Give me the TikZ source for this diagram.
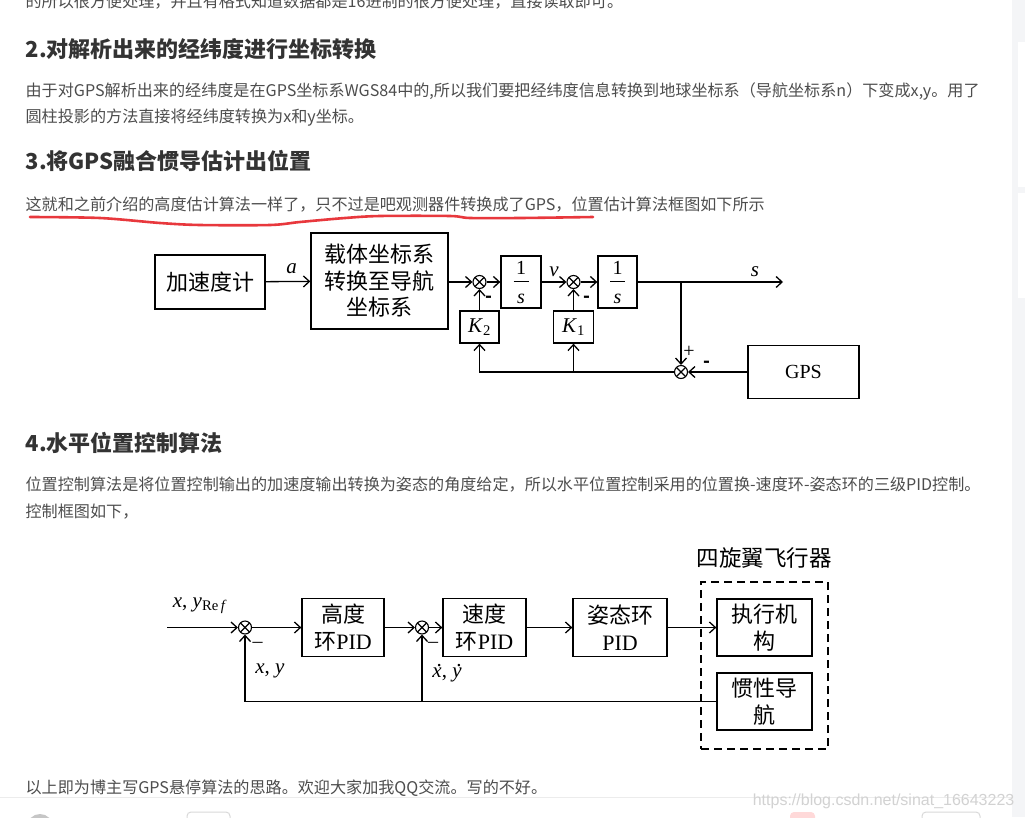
\documentclass[tikz,border=0pt]{standalone}
\usepackage{fontspec}
\setmainfont{Liberation Serif}
\newfontfamily\cjk{Noto Sans CJK SC}
\newfontfamily\webfont{Noto Sans CJK SC}
\newfontfamily\markfont{Liberation Sans}
\usetikzlibrary{arrows.meta, positioning, calc}
\definecolor{bodytext}{HTML}{4D4D4D}
\definecolor{headtext}{HTML}{333333}
\definecolor{sidebar}{HTML}{F4F5F7}
\definecolor{penred}{HTML}{E8383D}
\newcommand\vdot[1]{\leavevmode\makebox[0pt][l]{\hspace{0.2em}\raisebox{0.5em}{\textup{.}}}\textit{#1}}
\newcommand\invs{1\\[-3pt]\rule{15pt}{1.2pt}\\[10pt]\textit{s}}

\begin{document}
\begin{tikzpicture}[
    x=1pt, y=-1pt,
    line width=1.3pt,
    >={Straight Barb[length=6pt,width=11pt]},
    block/.style={draw, rectangle, inner sep=0pt, align=center, font=\cjk\fontsize{22}{26.5}\selectfont},
    frac/.style={block, font=\fontsize{20}{11}\selectfont},
    sumnode/.style={draw, circle, minimum size=13pt, inner sep=0pt, line width=1.1pt,
        path picture={\draw[line width=1.1pt] (path picture bounding box.north west) -- (path picture bounding box.south east)
            (path picture bounding box.north east) -- (path picture bounding box.south west);}},
    sign/.style={inner sep=0pt, font=\fontsize{20}{20}\selectfont},
    var/.style={inner sep=0pt, font=\fontsize{21}{22}\selectfont},
    para/.style={anchor=base west, inner sep=0pt, text=bodytext, font=\webfont\fontsize{16.1}{16}\selectfont},
    heading/.style={anchor=base west, inner sep=0pt, text=headtext, font=\webfont\bfseries\fontsize{22}{22}\selectfont}
]
    \useasboundingbox (0,0) rectangle (1025,817);
    \clip (0,0) rectangle (1025,817);
    % page background
    \fill[white] (0,0) rectangle (1025,817);
    \fill[sidebar] (1012,0) rectangle (1025,817);
    \fill[white] (1018,42) rectangle (1025,187);
    \fill[white] (1018,193) rectangle (1025,298);
    \draw[gray!15, line width=1pt] (0,797) -- (1012,797);
    \fill[gray!45] (40,827) circle (13);
    \draw[gray!30, line width=1pt, rounded corners=4pt] (187,812) rectangle (230,830);
    \fill[pink!60, rounded corners=4pt] (790,812) rectangle (815,830);
    \draw[gray!30, line width=1pt, rounded corners=4pt] (922,812) rectangle (980,830);

    % article text
    \node[para] (line0) at (25,7.5) {的所以很方便处理，并且有格式知道数据都是16进制的很方便处理，直接读取即可。};
    \node[heading] (head2) at (25,57) {2.对解析出来的经纬度进行坐标转换};
    \node[para] (p2a) at (25,96) {由于对GPS解析出来的经纬度是在GPS坐标系WGS84中的,所以我们要把经纬度信息转换到地球坐标系（导航坐标系n）下变成x,y。用了};
    \node[para] (p2b) at (25,122) {圆柱投影的方法直接将经纬度转换为x和y坐标。};
    \node[heading] (head3) at (25,169) {3.将GPS融合惯导估计出位置};
    \node[para] (p3) at (25,210) {这就和之前介绍的高度估计算法一样了，只不过是吧观测器件转换成了GPS，位置估计算法框图如下所示};
    \draw[penred, line width=2.6pt, line cap=round] plot[smooth] coordinates {(30,217) (100,218) (160,223) (200,225) (270,225) (300,222) (345,218) (380,216) (450,216) (470,218) (520,218) (593,217)};
    \node[heading] (head4) at (25,451) {4.水平位置控制算法};
    \node[para] (p4a) at (25,490) {位置控制算法是将位置控制输出的加速度输出转换为姿态的角度给定，所以水平位置控制采用的位置换-速度环-姿态环的三级PID控制。};
    \node[para] (p4b) at (25,517) {控制框图如下，};
    \node[para] (p5) at (25,793) {以上即为博主写GPS悬停算法的思路。欢迎大家加我QQ交流。写的不好。};
    \node[anchor=base east, inner sep=0pt, text=gray!35, font=\markfont\fontsize{16}{16}\selectfont] (wmark) at (1015,805) {https://blog.csdn.net/sinat\_16643223};

    % position estimation
    \node[block, minimum width=110pt, minimum height=54pt] (accel) at (210,282) {加速度计};
    \node[block, minimum width=137pt, minimum height=96pt] (convert) at (379.5,281) {载体坐标系\\转换至导航\\坐标系};
    \node[sumnode] (s1) at (479.5,282) {};
    \node[frac, minimum width=40pt, minimum height=52pt] (int1) at (521,282) {\invs};
    \node[block, minimum width=39pt, minimum height=32pt, font=\fontsize{21}{21}\selectfont] (k2) at (479.5,327) {\textit{K}\textsubscript{2}};
    \node[sumnode] (s2) at (573.5,282) {};
    \node[frac, minimum width=39pt, minimum height=52pt] (int2) at (617.5,282) {\invs};
    \node[block, minimum width=40pt, minimum height=32pt, font=\fontsize{21}{21}\selectfont] (k1) at (573.5,327) {\textit{K}\textsubscript{1}};
    \node[sumnode] (s3) at (681,372) {};
    \node[block, minimum width=111pt, minimum height=53pt, font=\fontsize{20}{20}\selectfont] (gps) at (803.5,372) {GPS};
    \coordinate (sout) at (783,282);
    \coordinate (tap) at (681,282);
    \draw[->] (accel) -- node[var, above=7pt, pos=0.58] (lbla) {\textit{a}} (convert);
    \draw[->] (convert.east |- s1) -- (s1);
    \draw[->] (s1) -- (int1);
    \draw[->] (k2) -- (s1);
    \draw[->] (int1) -- node[var, above=5pt] (lblv) {\textit{v}} (s2);
    \draw[->] (s2) -- (int2);
    \draw[->] (k1) -- (s2);
    \draw[->] (int2) -- (sout);
    \node[var] (lbls) at (755,272) {\textit{s}};
    \draw[->] (tap) -- (s3);
    \draw[->] (gps) -- (s3);
    \draw[->] (s3) -| (k2);
    \draw[->] (k1 |- s3) -- (k1);
    \node[sign, font=\cjk\bfseries\fontsize{18}{18}\selectfont] (m1) at (488.5,299) {-};
    \node[sign, font=\cjk\bfseries\fontsize{18}{18}\selectfont] (m2) at (587,299) {-};
    \node[sign] (p3plus) at (689,352) {+};
    \node[sign, font=\cjk\bfseries\fontsize{18}{18}\selectfont] (m3) at (707,364) {-};

    % horizontal position control
    \node[block, minimum width=82pt, minimum height=58pt] (posloop) at (343,627.5) {高度\\环{\rmfamily PID}};
    \node[sumnode] (sa) at (245,627.5) {};
    \node[sumnode] (sb) at (422,627.5) {};
    \node[block, minimum width=83pt, minimum height=58pt] (velloop) at (484.5,627.5) {速度\\环{\rmfamily PID}};
    \node[block, minimum width=94pt, minimum height=58pt] (attloop) at (620,627.5) {姿态环\\{\rmfamily PID}};
    \node[block, minimum width=95pt, minimum height=57pt] (actuator) at (764.5,627.5) {执行机\\构};
    \node[block, minimum width=95pt, minimum height=57pt] (ins) at (764.5,701.5) {惯性导\\航};
    \node[draw, dashed, dash pattern=on 8pt off 5pt, minimum width=127pt, minimum height=167pt, inner sep=0pt] (quad) at (764.5,665.5) {};
    \node[inner sep=0pt, font=\cjk\fontsize{22.5}{22.5}\selectfont] (quadname) at (764,558) {四旋翼飞行器};
    \coordinate (xin) at (167,627.5);
    \draw[->] (xin) -- (sa);
    \node[var] (lblref) at (200,606) {\textit{x}, \textit{y}\textsubscript{Re\,\textit{f}}};
    \draw[->] (sa) -- (posloop);
    \draw[->] (posloop) -- (sb);
    \draw[->] (sb) -- (velloop);
    \draw[->] (velloop) -- (attloop);
    \draw[->] (attloop) -- (actuator);
    \draw[->] (ins.west) -| (sa);
    \draw[->] (sb |- ins.west) -- (sb);
    \node[sign] (ma) at (257.5,645) {–};
    \node[sign] (mb) at (433,645) {–};
    \node[var] (lblxy) at (270,671) {\textit{x}, \textit{y}};
    \node[var] (lbldxy) at (447,673) {\vdot{x}, \vdot{y}};
\end{tikzpicture}
\end{document}
